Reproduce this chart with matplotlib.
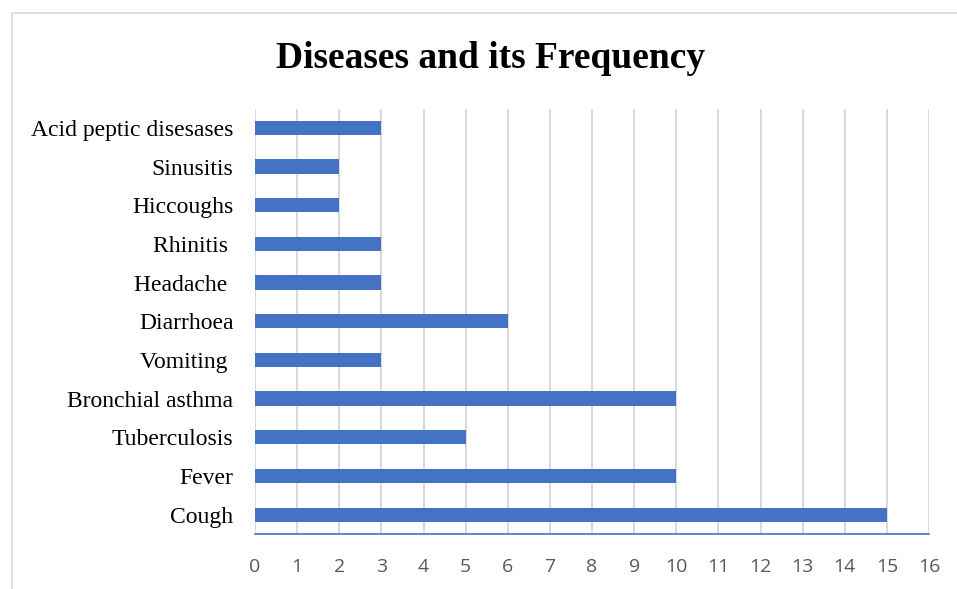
import matplotlib.pyplot as plt
from matplotlib.patches import Rectangle

diseases = ["Cough", "Fever", "Tuberculosis", "Bronchial asthma", "Vomiting ",
            "Diarrhoea", "Headache ", "Rhinitis ", "Hiccoughs", "Sinusitis",
            "Acid peptic disesases"]
counts = [15, 10, 5, 10, 3, 6, 3, 3, 2, 2, 3]
xticks = list(range(0, 17))

def main():
    fig = plt.figure(figsize=(9.57, 5.89), dpi=100)
    # chart frame
    fig.patches.append(Rectangle((12 / 957, -0.1), 1.2, 1 - 13 / 589 + 0.1,
                                 transform=fig.transFigure, fill=False,
                                 edgecolor="#d9d9d9", linewidth=1.2))
    ax = fig.add_axes([255 / 957, 1 - 534 / 589, 674 / 957, (534 - 108.6) / 589])

    ax.barh(range(len(diseases)), counts, height=0.37, color="#4472C4", zorder=3)

    ax.set_xlim(0, 16)
    ax.set_ylim(-0.5, len(diseases) - 0.5)
    ax.set_xticks(xticks)
    ax.set_xticklabels([str(t) for t in xticks], family="Open Sans",
                       fontsize=14, color="#595959")
    ax.set_yticks(range(len(diseases)))
    ax.set_yticklabels(diseases, family="Liberation Serif", fontsize=17,
                       color="black")
    ax.tick_params(axis="both", length=0)
    ax.tick_params(axis="x", pad=17)
    ax.tick_params(axis="y", pad=15.5)

    ax.grid(axis="x", color="#d9d9d9", linewidth=1.5, zorder=0)
    for side in ["top", "right", "left"]:
        ax.spines[side].set_visible(False)
    ax.spines["bottom"].set_color("#4472C4")
    ax.spines["bottom"].set_linewidth(1.2)

    fig.text(490.5 / 957, 1 - 58 / 589, "Diseases and its Frequency",
             family="Liberation Serif", fontweight="bold", fontsize=27,
             ha="center", va="center")

    plt.savefig("out.png", dpi=100)

if __name__ == "__main__":
    main()
